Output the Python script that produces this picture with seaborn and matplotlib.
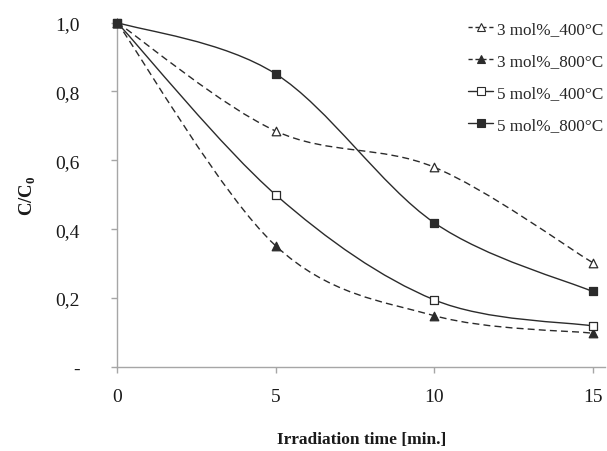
"""
Photocatalytic degradation: C/C0 vs irradiation time, Excel-style smoothed curves.
"""

import numpy as np
import matplotlib
matplotlib.use("Agg")
import matplotlib.pyplot as plt
import matplotlib.lines as mlines
from matplotlib.path import Path
from matplotlib.patches import PathPatch
from matplotlib.ticker import FuncFormatter
import seaborn as sns

time_min = [0, 5, 10, 15]

labels = ["3 mol%_400°C", "3 mol%_800°C", "5 mol%_400°C", "5 mol%_800°C"]
c_3mol_400 = [1.0, 0.685, 0.58, 0.303]
c_3mol_800 = [1.0, 0.352, 0.149, 0.098]
c_5mol_400 = [1.0, 0.50, 0.195, 0.119]
c_5mol_800 = [1.0, 0.851, 0.419, 0.219]

INK = "#2b2b2b"
AXIS = "#a6a6a6"
SERIF = ["Liberation Serif", "DejaVu Serif"]


def smooth_path(x, y):
    # Catmull-Rom style Bezier through the points, like Excel's "smoothed line"
    pts = np.column_stack([x, y]).astype(float)
    verts = [pts[0]]
    codes = [Path.MOVETO]
    n = len(pts)
    for i in range(n - 1):
        p_prev = pts[max(i - 1, 0)]
        p0, p1 = pts[i], pts[i + 1]
        p_next = pts[min(i + 2, n - 1)]
        c1 = p0 + (p1 - p_prev) / 6.0
        c2 = p1 - (p_next - p0) / 6.0
        verts += [c1, c2, p1]
        codes += [Path.CURVE4] * 3
    return Path(verts, codes)


series = [
    (c_3mol_400, "--", "^", "white"),
    (c_3mol_800, "--", "^", INK),
    (c_5mol_400, "-", "s", "white"),
    (c_5mol_800, "-", "s", INK),
]

sns.set_theme(style="white")
plt.rcParams["font.family"] = SERIF

fig = plt.figure(figsize=(6.07, 4.52), dpi=100)
ax = fig.add_axes([0.193, 0.186, 0.804, 0.762])

handles = []
for (vals, ls, mk, face), lab in zip(series, labels):
    patch = PathPatch(smooth_path(time_min, vals), facecolor="none", edgecolor=INK,
                      linewidth=1.0, linestyle=(0, (5, 3)) if ls == "--" else "-",
                      transform=ax.transData, zorder=2, clip_on=False)
    ax.add_patch(patch)
    sns.scatterplot(x=time_min, y=vals, marker=mk, s=38, color=face, edgecolor=INK,
                    linewidth=0.9, ax=ax, zorder=3, clip_on=False, legend=False)
    handles.append(mlines.Line2D([], [], color=INK, linewidth=1.0,
                                 linestyle=(0, (3, 2)) if ls == "--" else "-",
                                 marker=mk, markersize=6, markerfacecolor=face,
                                 markeredgecolor=INK, markeredgewidth=0.8))

ax.set_xlim(0, 15.4)
ax.set_ylim(0, 1.0)
ax.set_xticks([0, 5, 10, 15])
ax.set_yticks([0, 0.2, 0.4, 0.6, 0.8, 1.0])
ax.yaxis.set_major_formatter(FuncFormatter(
    lambda v, _: "-" if abs(v) < 1e-9 else f"{v:.1f}".replace(".", ",")))

for side in ["top", "right"]:
    ax.spines[side].set_visible(False)
for side in ["left", "bottom"]:
    ax.spines[side].set_color(AXIS)
    ax.spines[side].set_linewidth(1.0)

ax.tick_params(axis="both", which="major", direction="out", length=4, width=1.0,
               color=AXIS, labelsize=14, labelcolor="#1a1a1a",
               bottom=True, left=True)
ax.tick_params(axis="y", pad=23)
ax.tick_params(axis="x", pad=11)

ax.set_xlabel("Irradiation time [min.]", fontsize=12.5, fontweight="bold",
              labelpad=19, color="#1a1a1a")
ax.set_ylabel("C/C$_\\mathregular{0}$", fontsize=13.5, fontweight="bold",
              labelpad=12, color="#1a1a1a")

ax.legend(handles, labels, loc="upper right", bbox_to_anchor=(1.01, 1.025),
          frameon=False, fontsize=12.3, handlelength=1.5, handletextpad=0.2,
          labelspacing=0.95, borderaxespad=0.0)

fig.savefig("out.png", dpi=100)
